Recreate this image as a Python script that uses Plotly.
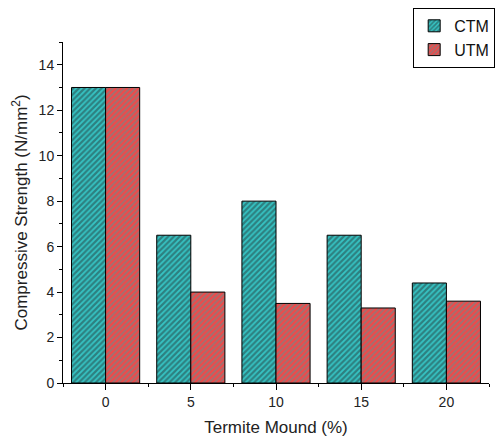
import plotly.graph_objects as go

mound_pct = [0, 5, 10, 15, 20]
tick_labels = ["0", "5", "10", "15", "20"]
ctm = [13.0, 6.5, 8.0, 6.5, 4.4]
utm = [13.0, 4.0, 3.5, 3.3, 3.6]

fig = go.Figure()
fig.add_trace(go.Bar(
    x=mound_pct, y=ctm, name="CTM",
    marker=dict(color="#36c4c4", line=dict(color="black", width=1),
                pattern=dict(shape="/", fgcolor="#243c3c", bgcolor="#36c4c4",
                             size=4, solidity=0.55, fillmode="overlay")),
))
fig.add_trace(go.Bar(
    x=mound_pct, y=utm, name="UTM",
    marker=dict(color="#f24848", line=dict(color="black", width=1),
                pattern=dict(shape="/", fgcolor="#4e9a9a", bgcolor="#f24848",
                             size=4, solidity=0.5, fillmode="overlay")),
))

font_family = "Liberation Sans, Arial, sans-serif"
fig.update_layout(
    width=502, height=439,
    margin=dict(l=63, r=13, t=42, b=56, autoexpand=False),
    plot_bgcolor="white", paper_bgcolor="white",
    barmode="group", bargap=0.2, bargroupgap=0,
    font=dict(family=font_family, size=14, color="#222"),
    showlegend=True,
    legend=dict(x=0.822, y=1.10, xanchor="left", yanchor="top",
                bordercolor="black", borderwidth=1, bgcolor="white",
                font=dict(size=16, color="#111"), tracegroupgap=0,
                itemwidth=30),
    xaxis=dict(
        title=dict(text="Termite Mound (%)", font=dict(size=17), standoff=12),
        range=[-2.5, 22.5], tickvals=mound_pct, ticktext=tick_labels,
        showline=True, linecolor="black", linewidth=1,
        ticks="outside", ticklen=6, tickcolor="black",
        minor=dict(tick0=2.5, dtick=5, ticks="outside", ticklen=3, tickcolor="black"),
        showgrid=False, zeroline=False,
    ),
    yaxis=dict(
        title=dict(text="Compressive Strength (N/mm<sup>2</sup>)", font=dict(size=17), standoff=6),
        range=[0, 15], tickvals=[0, 2, 4, 6, 8, 10, 12, 14],
        showline=True, linecolor="black", linewidth=1,
        ticks="outside", ticklen=5, tickcolor="black",
        minor=dict(tickvals=[1, 3, 5, 7, 9, 11, 13, 15], ticks="outside", ticklen=3, tickcolor="black"),
        showgrid=False, zeroline=False,
    ),
)

fig.write_html("out.html", config={"displayModeBar": False},
               post_script="document.body.style.margin='0';")
